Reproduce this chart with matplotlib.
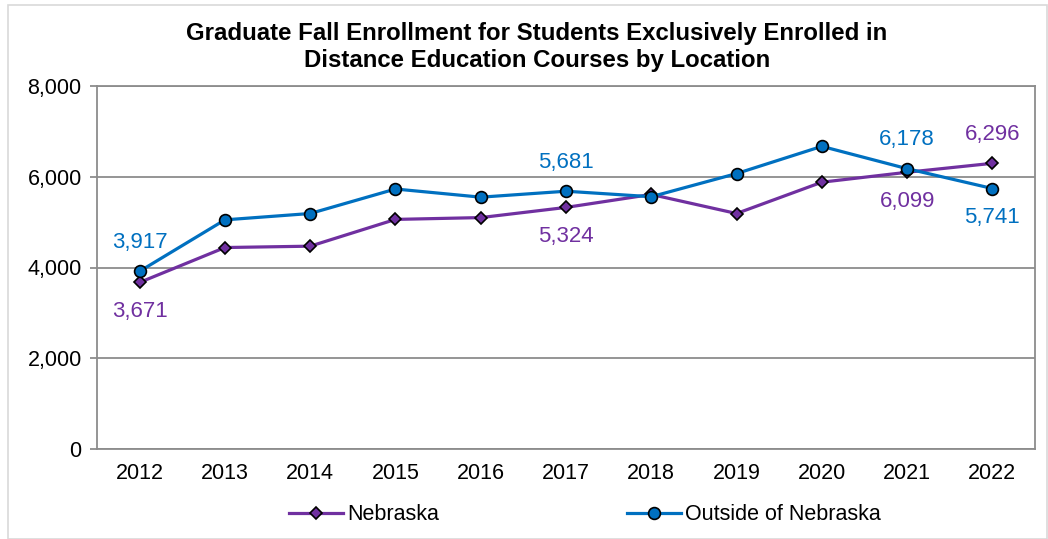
import matplotlib
matplotlib.use("Agg")
import matplotlib.pyplot as plt
from matplotlib.patches import Rectangle
from matplotlib.ticker import FuncFormatter

plt.rcParams['font.family'] = ['Liberation Sans', 'DejaVu Sans']

years = ["2012", "2013", "2014", "2015", "2016", "2017", "2018", "2019", "2020", "2021", "2022"]
nebraska = [3671, 4440, 4470, 5060, 5100, 5324, 5610, 5190, 5880, 6099, 6296]
outside = [3917, 5050, 5190, 5730, 5550, 5681, 5560, 6070, 6670, 6178, 5741]

# which points carry value labels, and whether above (+1) or below (-1)
neb_labels = {0: -1, 5: -1, 9: -1, 10: 1}
out_labels = {0: 1, 5: 1, 9: 1, 10: -1}

purple = "#7030A0"
blue = "#0070C0"
grid_c = "#8C8C8C"
fs = 15.5

fig = plt.figure(figsize=(10.48, 5.39), dpi=100)
fig.patches.append(Rectangle((8 / 1048, 0), 1 - 9 / 1048, 1 - 5 / 539, transform=fig.transFigure,
                             fill=False, edgecolor="#D9D9D9", linewidth=1.2))

ax = fig.add_axes([97 / 1048, 1 - 449 / 539, (1035 - 97) / 1048, (449 - 86) / 539])
x = list(range(len(years)))

ax.plot(x, nebraska, color=purple, lw=2.3, marker="D", ms=6.5, mfc=purple, mec="black", mew=1.2,
        label="Nebraska", zorder=3)
ax.plot(x, outside, color=blue, lw=2.3, marker="o", ms=8.5, mfc=blue, mec="black", mew=1.2,
        label="Outside of Nebraska", zorder=4)

for i, d in neb_labels.items():
    ax.annotate(f"{nebraska[i]:,}", (x[i], nebraska[i]), xytext=(0, 21 * d), textcoords="offset points",
                ha="center", va="center", color=purple, fontsize=16)
for i, d in out_labels.items():
    ax.annotate(f"{outside[i]:,}", (x[i], outside[i]), xytext=(0, 21 * d), textcoords="offset points",
                ha="center", va="center", color=blue, fontsize=16)

ax.set_xlim(-0.5, len(years) - 0.5)
ax.set_ylim(0, 8000)
ax.set_yticks([0, 2000, 4000, 6000, 8000])
ax.yaxis.set_major_formatter(FuncFormatter(lambda v, p: f"{int(v):,}"))
ax.set_xticks(x)
ax.set_xticklabels(years)
ax.tick_params(axis="y", length=5, width=1.3, color=grid_c, labelsize=fs, pad=6)
ax.tick_params(axis="x", length=0, labelsize=fs, pad=10)
ax.grid(axis="y", color=grid_c, lw=1.3)
ax.set_axisbelow(True)
for s in ax.spines.values():
    s.set_color(grid_c)
    s.set_linewidth(1.3)

fig.text(537 / 1048, 1 - 47 / 539,
         "Graduate Fall Enrollment for Students Exclusively Enrolled in\nDistance Education Courses by Location",
         ha="center", va="center", fontsize=17.3, fontweight="bold", linespacing=1.25)

fig.legend(loc="center", bbox_to_anchor=(585 / 1048, 1 - 515 / 539), ncol=2, frameon=False,
           fontsize=fs, handlelength=2.5, handletextpad=0.23, columnspacing=8.7)

fig.savefig("out.png", dpi=100)
